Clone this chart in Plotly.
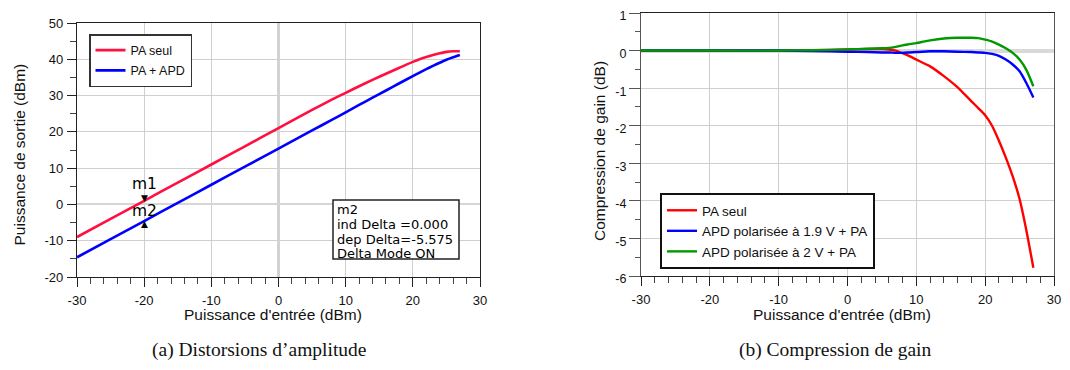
import plotly.graph_objects as go

# ---------------- data ----------------
# (a) output power vs input power
pin_a = [-30, -25, -20, -15, -10, -5, 0, 5, 8, 10, 12, 14, 16, 18, 20, 21, 22, 23, 24, 25, 26, 27]
pout_pa = [-9.0, -4.0, 1.0, 6.0, 11.0, 16.01, 21.03, 26.04, 28.93, 30.76, 32.58, 34.32, 36.02,
           37.65, 39.28, 40.0, 40.6, 41.15, 41.65, 42.05, 42.2, 42.22]
pout_pa_apd = [-14.58, -9.58, -4.58, 0.42, 5.42, 10.42, 15.4, 20.38, 23.37, 25.39, 27.41, 29.41,
               31.4, 33.39, 35.37, 36.34, 37.29, 38.19, 39.06, 39.88, 40.56, 41.18]
marker_x = -20
delta_text = ["m2", "ind Delta =0.000", "dep Delta=-5.575", "Delta Mode ON"]

# (b) gain compression vs input power
pin_b = [-30, -20, -10, -5, 0, 3, 5, 6, 7, 8, 9, 10, 12, 14, 16, 18, 19, 20, 21, 22, 23, 24, 25, 26, 27]
comp_pa = [0, 0, 0, 0.01, 0.03, 0.04, 0.04, 0.03, 0.0, -0.07, -0.15, -0.24, -0.42, -0.68, -0.98,
           -1.35, -1.53, -1.72, -2.0, -2.4, -2.85, -3.35, -3.95, -4.8, -5.78]
comp_apd19 = [0, 0, 0, -0.01, -0.03, -0.04, -0.05, -0.05, -0.06, -0.06, -0.05, -0.04, -0.02, -0.02,
              -0.03, -0.04, -0.05, -0.06, -0.09, -0.14, -0.24, -0.37, -0.55, -0.87, -1.25]
comp_apd2 = [0, 0, 0, 0.01, 0.03, 0.05, 0.06, 0.07, 0.1, 0.14, 0.17, 0.2, 0.27, 0.32, 0.34, 0.34,
             0.33, 0.29, 0.24, 0.16, 0.06, -0.06, -0.24, -0.52, -0.95]

names_a = ["PA seul", "PA + APD"]
names_b = ["PA seul", "APD polarisée à 1.9 V + PA", "APD polarisée à 2 V + PA"]
xticks = [-30, -20, -10, 0, 10, 20, 30]
xticklabels = ["-30", "-20", "-10", "0", "10", "20", "30"]
yticks_a = [-20, -10, 0, 10, 20, 30, 40, 50]
yticklabels_a = ["-20", "-10", "0", "10", "20", "30", "40", "50"]
yticks_b = [-6, -5, -4, -3, -2, -1, 0, 1]
yticklabels_b = ["-6", "-5", "-4", "-3", "-2", "-1", "0", "1"]
captions = ["(a) Distorsions d’amplitude", "(b) Compression de gain"]
xtitle = "Puissance d'entrée (dBm)"
ytitle_a = "Puissance de sortie (dBm)"
ytitle_b = "Compression de gain (dB)"

# ---------------- figure ----------------
# the page body has an 8px margin: the figure is 1062x362 and offset by 8px
OFF = 8
W, H = 1070 - OFF, 370 - OFF
SANS = "Liberation Sans, Arial, sans-serif"
ADS = "DejaVu Sans, Verdana, sans-serif"

fig = go.Figure()
fig.add_trace(go.Scatter(x=pin_a, y=pout_pa, mode="lines", name=names_a[0],
                         line=dict(color="#ff1040", width=2.6, shape="spline", smoothing=0.6),
                         xaxis="x", yaxis="y", legend="legend", legendgroup="a1"))
fig.add_trace(go.Scatter(x=pin_a, y=pout_pa_apd, mode="lines", name=names_a[1],
                         line=dict(color="#0000ff", width=2.6, shape="spline", smoothing=0.6),
                         xaxis="x", yaxis="y", legend="legend", legendgroup="a2"))
colors_b = ["#ff0000", "#0000ff", "#009a00"]
for nm, ys, c in zip(names_b, [comp_pa, comp_apd19, comp_apd2], colors_b):
    fig.add_trace(go.Scatter(x=pin_b, y=ys, mode="lines", name=nm,
                             line=dict(color=c, width=2.4, shape="spline", smoothing=0.6),
                             xaxis="x2", yaxis="y2", legend="legend2"))


def px2x(p):
    return (p - OFF) / W


def px2y(p):
    return 1 - (p - OFF) / H


def xaxis_style(zw):
    return dict(tickvals=xticks, ticktext=xticklabels, range=[-30, 30], automargin=False,
                showgrid=True, gridcolor="#cfcfcf", gridwidth=1.3,
                ticks="outside", ticklen=9, tickwidth=1, tickcolor="#222",
                minor=dict(dtick=2, ticks="outside", ticklen=6, tickcolor="#444", showgrid=False),
                showline=True, linecolor="#222", linewidth=1.2, mirror=True,
                tickfont=dict(family=SANS, size=13, color="#111"), ticklabelstandoff=2,
                ticklabeloverflow="allow",
                zeroline=True, zerolinecolor="#d2d2d2", zerolinewidth=zw, fixedrange=True)


fig.update_layout(
    width=W, height=H, margin=dict(l=0, r=0, t=0, b=0, autoexpand=False),
    paper_bgcolor="white", plot_bgcolor="white",
    xaxis=dict(domain=[px2x(77), px2x(480)], anchor="y", **xaxis_style(2.5)),
    yaxis=dict(domain=[px2y(277), px2y(23)], anchor="x", range=[-20, 50], automargin=False,
               tickvals=yticks_a, ticktext=yticklabels_a,
               showgrid=True, gridcolor="#cfcfcf", gridwidth=1.3,
               ticks="outside", ticklen=9, tickcolor="#222",
               minor=dict(dtick=5, ticks="outside", ticklen=6, tickcolor="#444", showgrid=False),
               showline=True, linecolor="#222", linewidth=1.2, mirror=True,
               tickfont=dict(family=SANS, size=13, color="#111"), ticklabelstandoff=1,
               ticklabeloverflow="allow",
               zeroline=True, zerolinecolor="#d6d6d6", zerolinewidth=1.5),
    xaxis2=dict(domain=[px2x(641), px2x(1054)], anchor="y2", **xaxis_style(1.3)),
    yaxis2=dict(domain=[px2y(276), px2y(13)], anchor="x2", range=[-6, 1], automargin=False,
                tickvals=yticks_b, ticktext=yticklabels_b,
                showgrid=True, gridcolor="#cfcfcf", gridwidth=1.3,
                ticks="outside", ticklen=11, tickcolor="#555",
                minor=dict(dtick=0.5, ticks="outside", ticklen=5, tickcolor="#555", showgrid=False),
                showline=True, linecolor="#555", linewidth=1.2, mirror=True,
                tickfont=dict(family=SANS, size=12.5, color="#111"), ticklabelstandoff=0,
                ticklabeloverflow="allow", ticklabelshift=3,
                zeroline=True, zerolinecolor="#d9d9d9", zerolinewidth=3.5),
    legend=dict(x=px2x(89), y=px2y(34), xanchor="left", yanchor="top",
                bordercolor="#333", borderwidth=1.5, bgcolor="white",
                font=dict(family=SANS, size=12.5, color="#111"), tracegroupgap=1,
                itemwidth=30),
    legend2=dict(x=px2x(660), y=px2y(193), xanchor="left", yanchor="top",
                 bordercolor="#111", borderwidth=2, bgcolor="white",
                 font=dict(family=SANS, size=13.5, color="#111"), itemwidth=30),
    showlegend=True,
)

# markers m1 / m2
idx = pin_a.index(marker_x)
anns = []
anns.append(dict(x=marker_x, y=pout_pa[idx], xref="x", yref="y", text="▼", showarrow=False,
                 yanchor="bottom", yshift=-4, font=dict(family="DejaVu Sans", size=9, color="black")))
anns.append(dict(x=marker_x, y=pout_pa[idx], xref="x", yref="y", text="m1", showarrow=False,
                 yanchor="middle", yshift=17, font=dict(family=ADS, size=15.5, color="black")))
anns.append(dict(x=marker_x, y=pout_pa_apd[idx], xref="x", yref="y", text="▲", showarrow=False,
                 yanchor="top", yshift=4, font=dict(family="DejaVu Sans", size=9, color="black")))
anns.append(dict(x=marker_x, y=pout_pa_apd[idx], xref="x", yref="y", text="m2", showarrow=False,
                 yanchor="middle", yshift=10, font=dict(family=ADS, size=15.5, color="black")))

# delta box
line_y = [209.5, 224.5, 239.0, 253.0]
for t, yy in zip(delta_text, line_y):
    anns.append(dict(x=px2x(335), y=px2y(yy), xref="paper", yref="paper", text=t, showarrow=False,
                     xanchor="left", yanchor="middle",
                     font=dict(family=ADS, size=13, color="black")))

# axis titles
anns.append(dict(x=px2x(273), y=px2y(314), xref="paper", yref="paper", text=xtitle, showarrow=False,
                 xanchor="center", yanchor="middle", font=dict(family=SANS, size=15.5, color="#111")))
anns.append(dict(x=px2x(842), y=px2y(314), xref="paper", yref="paper", text=xtitle, showarrow=False,
                 xanchor="center", yanchor="middle", font=dict(family=SANS, size=15.5, color="#111")))
anns.append(dict(x=px2x(18.5), y=px2y(155), xref="paper", yref="paper", text=ytitle_a, showarrow=False,
                 textangle=-90, xanchor="center", yanchor="middle",
                 font=dict(family=SANS, size=15.5, color="#111")))
anns.append(dict(x=px2x(600), y=px2y(151), xref="paper", yref="paper", text=ytitle_b, showarrow=False,
                 textangle=-90, xanchor="center", yanchor="middle",
                 font=dict(family=SANS, size=15.5, color="#111")))

# captions
for t, cx in zip(captions, [259, 835]):
    anns.append(dict(x=px2x(cx), y=px2y(350), xref="paper", yref="paper", text=t, showarrow=False,
                     xanchor="center", yanchor="middle",
                     font=dict(family="Liberation Serif, serif", size=19.5, color="#111")))

fig.update_layout(annotations=anns)
fig.add_shape(type="rect", xref="paper", yref="paper",
              x0=px2x(333), x1=px2x(459), y0=px2y(259), y1=px2y(200),
              line=dict(color="#222", width=1.5), fillcolor="white", layer="above")
fig.write_html("out.html")
